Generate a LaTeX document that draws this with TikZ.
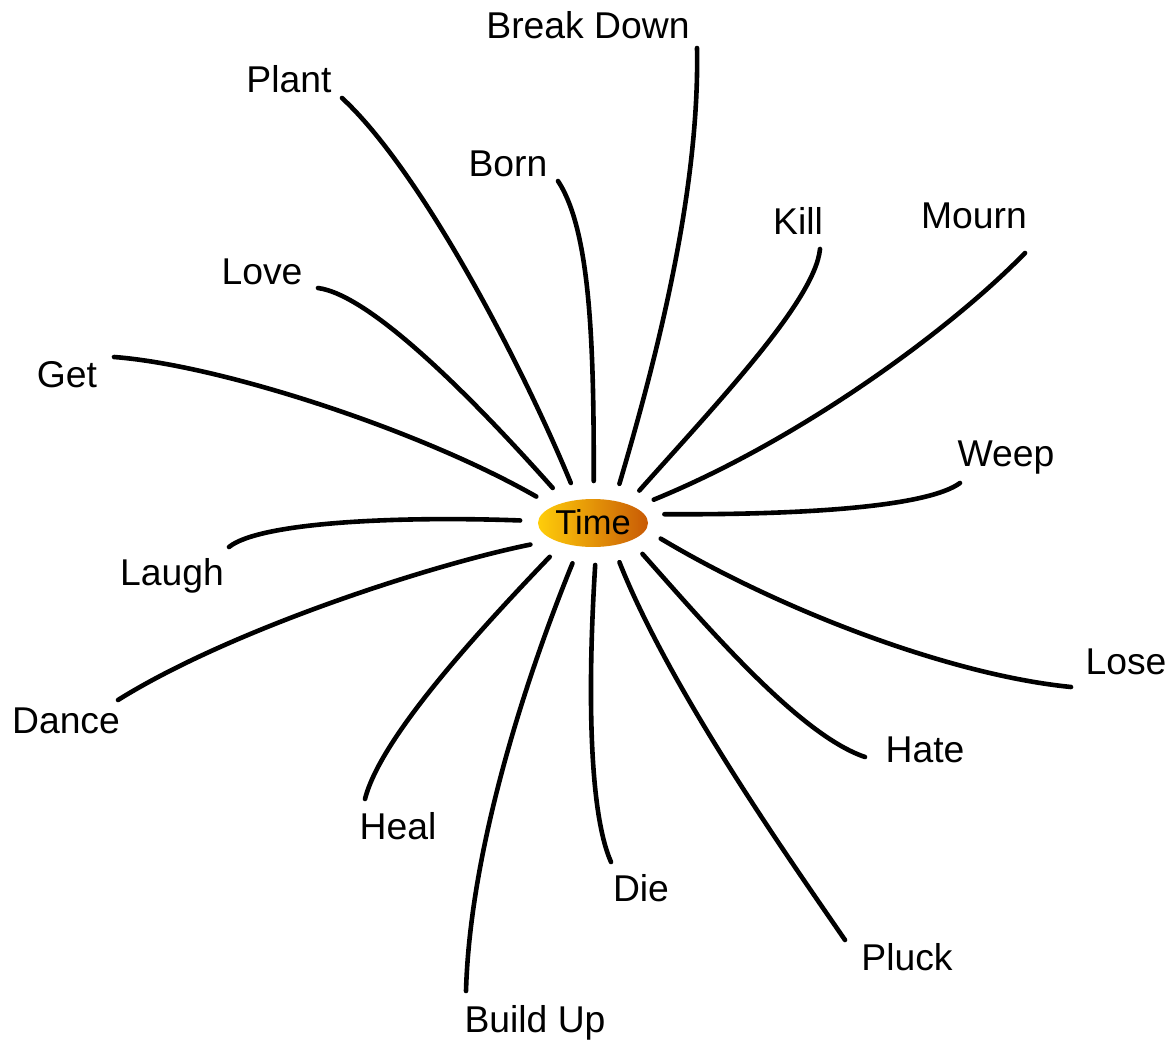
\documentclass[tikz,border=0pt]{standalone}
\usepackage{fontspec}
\setmainfont{Liberation Sans}
\usetikzlibrary{shapes.geometric}
\definecolor{timeyellow}{RGB}{255,205,10}
\definecolor{timeorange}{RGB}{200,90,5}
\begin{document}
\begin{tikzpicture}[x=1pt, y=-1pt,
    word/.style={anchor=base, inner sep=0pt, font=\fontsize{37.3}{44}\selectfont},
    spoke/.style={line width=4.6pt, line cap=round},
    hub/.style={ellipse, minimum width=110pt, minimum height=48pt, inner sep=0pt, outer sep=18pt,
                left color=timeyellow, right color=timeorange, text height=25pt, text depth=3pt,
                font=\fontsize{34.5}{40}\selectfont}]
  \useasboundingbox (0,0) rectangle (1172,1040);
  \node[hub] (time) at (593,523) {Time};
  % words round the hub
  \node[word] (bdown) at (588,39) {Break Down};
  \node[word] (plant) at (289,93) {Plant};
  \node[word] (born) at (508,177) {Born};
  \node[word] (kill) at (798,235) {Kill};
  \node[word] (mourn) at (974,229) {Mourn};
  \node[word] (love) at (262,285) {Love};
  \node[word] (get) at (67,387) {Get};
  \node[word] (weep) at (1006,466) {Weep};
  \node[word] (laugh) at (172,585) {Laugh};
  \node[word] (dance) at (66,733) {Dance};
  \node[word] (lose) at (1126,674) {Lose};
  \node[word] (hate) at (925,762) {Hate};
  \node[word] (heal) at (398,839) {Heal};
  \node[word] (die) at (641,901) {Die};
  \node[word] (pluck) at (907,970) {Pluck};
  \node[word] (bup) at (535,1032) {Build Up};
  % loose ends of the spokes
  \coordinate (bdown-end) at (697,48);
  \coordinate (plant-end) at (342,98);
  \coordinate (born-end) at (558,181);
  \coordinate (kill-end) at (820,249);
  \coordinate (mourn-end) at (1025,253);
  \coordinate (love-end) at (318,288);
  \coordinate (get-end) at (114,357);
  \coordinate (weep-end) at (960,483);
  \coordinate (laugh-end) at (229,547);
  \coordinate (dance-end) at (118,700);
  \coordinate (lose-end) at (1071,687);
  \coordinate (hate-end) at (865,757);
  \coordinate (heal-end) at (365,799);
  \coordinate (die-end) at (611,862);
  \coordinate (pluck-end) at (845,940);
  \coordinate (bup-end) at (466,991);
  % spokes
  \draw[spoke] (time.56) .. controls (650,380) and (700,200) .. (bdown-end);
  \draw[spoke] (time.119) .. controls (520,360) and (420,170) .. (plant-end);
  \draw[spoke] (time.89) .. controls (594,340) and (590,230) .. (born-end);
  \draw[spoke] (time.35) .. controls (720,400) and (815,300) .. (kill-end);
  \draw[spoke] (time.21) .. controls (800,440) and (950,330) .. (mourn-end);
  \draw[spoke] (time.139) .. controls (470,395) and (370,295) .. (love-end);
  \draw[spoke] (time.155) .. controls (420,430) and (220,365) .. (get-end);
  \draw[spoke] (time.7) .. controls (820,515) and (930,505) .. (weep-end);
  \draw[spoke] (time.178) .. controls (400,516) and (260,522) .. (laugh-end);
  \draw[spoke] (time.199) .. controls (430,565) and (230,630) .. (dance-end);
  \draw[spoke] (time.347) .. controls (780,610) and (950,675) .. (lose-end);
  \draw[spoke] (time.328) .. controls (710,630) and (800,735) .. (hate-end);
  \draw[spoke] (time.218) .. controls (470,640) and (380,740) .. (heal-end);
  \draw[spoke] (time.273) .. controls (588,680) and (588,810) .. (die-end);
  \draw[spoke] (time.304) .. controls (670,690) and (790,860) .. (pluck-end);
  \draw[spoke] (time.243) .. controls (525,680) and (470,850) .. (bup-end);
\end{tikzpicture}
\end{document}
